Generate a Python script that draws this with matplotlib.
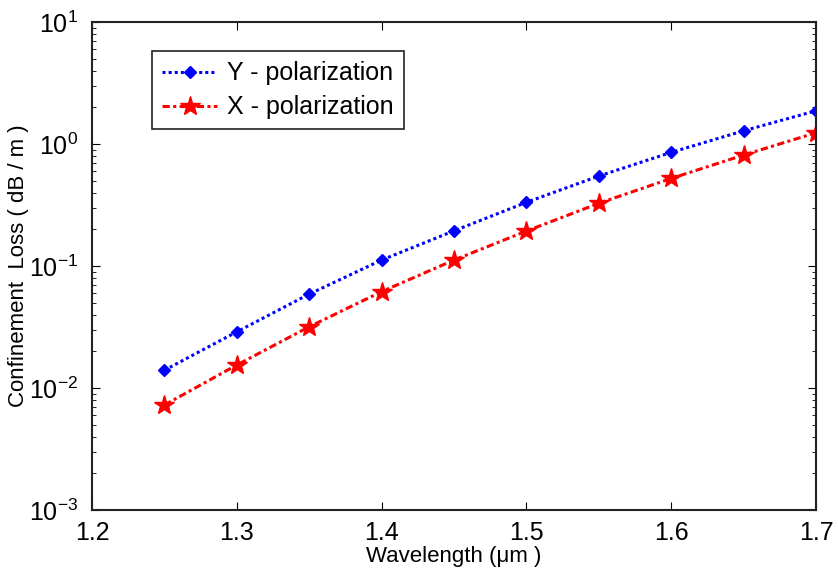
import matplotlib
matplotlib.use('Agg')
import matplotlib.pyplot as plt
import numpy as np

plt.rcParams['font.family'] = ['Liberation Sans', 'DejaVu Sans']
plt.rcParams['mathtext.fontset'] = 'custom'
plt.rcParams['mathtext.rm'] = 'Liberation Sans'
plt.rcParams['mathtext.it'] = 'Liberation Sans:italic'
plt.rcParams['axes.unicode_minus'] = False

# wavelength (um) and confinement loss (dB/m)
wavelength = [1.25, 1.30, 1.35, 1.40, 1.45, 1.50, 1.55, 1.60, 1.65, 1.70]
loss_y = [0.0140, 0.0289, 0.0589, 0.112, 0.1945, 0.333, 0.547, 0.855, 1.285, 1.875]
loss_x = [0.00726, 0.01545, 0.0318, 0.0617, 0.112, 0.1936, 0.327, 0.523, 0.813, 1.238]

fig = plt.figure(figsize=(8.38, 5.74), dpi=100)
ax = fig.add_axes([0.1098, 0.1115, 0.864, 0.850])

ax.semilogy(wavelength, loss_y, color='#0000ff', lw=2.2, dashes=(1, 1),
            dash_capstyle='butt', marker='D', ms=6.5, label='Y - polarization')
ax.semilogy(wavelength, loss_x, color='#ff0000', lw=2.2, dashes=(2.4, 1.1, 1, 1.1),
            dash_capstyle='butt', marker='*', ms=15, label='X - polarization')

ax.set_xlim(1.2, 1.7)
ax.set_ylim(1e-3, 1e1)
ax.set_xticks([1.2, 1.3, 1.4, 1.5, 1.6, 1.7])
ax.set_xticklabels(['1.2', '1.3', '1.4', '1.5', '1.6', '1.7'])
ax.tick_params(which='both', direction='in', top=True, right=True, labelsize=18)
ax.tick_params(axis='x', pad=8)
ax.tick_params(axis='y', pad=10)
ax.tick_params(which='major', length=6)
ax.tick_params(which='minor', length=3)
for s in ax.spines.values():
    s.set_linewidth(1.5)
    s.set_color('#222222')

ax.set_xlabel('Wavelength (μm )', fontsize=16)
ax.set_ylabel('Confinement  Loss ( dB / m )', fontsize=16)
ax.xaxis.set_label_coords(0.5, -0.074)
ax.yaxis.set_label_coords(-0.087, 0.5)

leg = ax.legend(loc='upper left', bbox_to_anchor=(0.083, 0.94), fontsize=18,
                fancybox=False, edgecolor='#222222', framealpha=1,
                handlelength=2.2, handletextpad=0.4, borderpad=0.4,
                labelspacing=0.4, borderaxespad=0)
leg.get_frame().set_linewidth(1.2)

fig.savefig('out.png', dpi=100)
